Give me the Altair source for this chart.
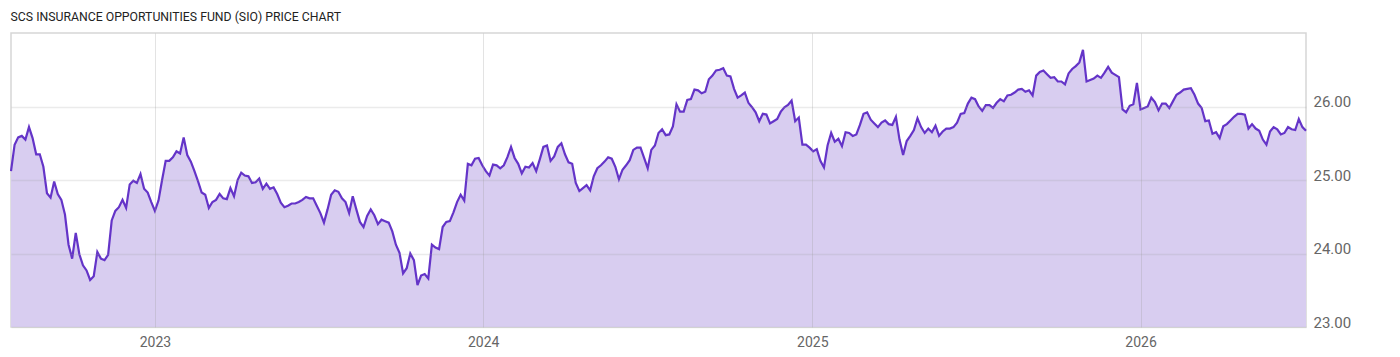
import altair as alt
import pandas as pd

title_text = "SCS INSURANCE OPPORTUNITIES FUND (SIO) PRICE CHART"
start_date = (2022, 7, 25)
end_date = (2026, 7, 4)
step_days = 4
year_ticks = [2023, 2024, 2025, 2026]
price_ticks = [23, 24, 25, 26]

seg_a = [
    25.12, 25.48, 25.58, 25.60, 25.55, 25.72, 25.57, 25.35, 25.35, 25.18,
    24.82, 24.76, 24.98, 24.81, 24.73, 24.53, 24.12, 23.93, 24.28, 23.99,
    23.84, 23.77, 23.64, 23.69, 24.02, 23.93, 23.91, 23.98, 24.45, 24.58,
    24.63, 24.73, 24.62, 24.94, 24.99, 24.96, 25.08, 24.88, 24.83, 24.70,
    24.58, 24.72, 25.00, 25.26, 25.26, 25.31, 25.39, 25.36, 25.58, 25.34,
    25.25, 25.12, 24.98, 24.83, 24.80, 24.62, 24.70, 24.73, 24.81, 24.75,
    24.74, 24.89, 24.78, 25.00, 25.10, 25.06, 25.05, 24.96, 24.97, 25.02,
    24.88, 24.95, 24.88, 24.90, 24.81, 24.69, 24.63, 24.65, 24.68, 24.68,
    24.70, 24.73, 24.77, 24.75, 24.75, 24.65, 24.55, 24.42, 24.60, 24.80,
]
seg_b = [
    24.86, 24.84, 24.75, 24.70, 24.55, 24.78, 24.60, 24.43, 24.36, 24.51,
    24.60, 24.52, 24.40, 24.46, 24.44, 24.42, 24.30, 24.12, 24.01, 23.73,
    23.80, 24.00, 23.91, 23.57, 23.70, 23.72, 23.66, 24.12, 24.08, 24.06,
    24.36, 24.43, 24.44, 24.56, 24.70, 24.80, 24.72, 25.22, 25.20, 25.29,
    25.30, 25.20, 25.12, 25.06, 25.21, 25.20, 25.16, 25.20, 25.31, 25.45,
    25.30, 25.22, 25.09, 25.18, 25.17, 25.23, 25.12, 25.28, 25.45, 25.47,
    25.26, 25.32, 25.45, 25.50, 25.35, 25.24, 25.22, 24.96, 24.85, 24.89,
    24.93, 24.86, 25.05, 25.16, 25.20, 25.25, 25.31, 25.29, 25.18, 25.01,
    25.14, 25.20, 25.27, 25.41, 25.44, 25.44, 25.30, 25.16, 25.41, 25.47,
]
seg_c = [
    25.64, 25.69, 25.61, 25.62, 25.73, 26.03, 25.93, 25.93, 26.09, 26.10,
    26.23, 26.22, 26.18, 26.20, 26.37, 26.42, 26.49, 26.50, 26.52, 26.42,
    26.41, 26.24, 26.12, 26.15, 26.19, 26.05, 25.99, 25.92, 25.80, 25.90,
    25.89, 25.77, 25.80, 25.83, 25.93, 25.99, 26.02, 26.08, 25.80, 25.85,
    25.48, 25.48, 25.44, 25.39, 25.42, 25.26, 25.17, 25.47, 25.64, 25.52,
    25.56, 25.46, 25.65, 25.64, 25.60, 25.62, 25.75, 25.90, 25.92, 25.82,
    25.77, 25.72, 25.78, 25.81, 25.76, 25.75, 25.86, 25.55, 25.34, 25.53,
    25.60, 25.68, 25.84, 25.72, 25.64, 25.70, 25.65, 25.74, 25.60, 25.66,
    25.70, 25.70, 25.72, 25.78, 25.90, 25.91, 26.04, 26.12, 26.10, 26.00,
]
seg_d = [
    25.94, 26.02, 26.02, 25.98, 26.05, 26.10, 26.07, 26.15, 26.16, 26.19,
    26.23, 26.24, 26.20, 26.22, 26.15, 26.42, 26.47, 26.49, 26.44, 26.39,
    26.40, 26.34, 26.34, 26.30, 26.45, 26.51, 26.55, 26.60, 26.77, 26.34,
    26.36, 26.38, 26.42, 26.39, 26.46, 26.54, 26.46, 26.43, 26.40, 25.96,
    25.92, 26.01, 26.03, 26.32, 25.96, 25.98, 26.00, 26.12, 26.06, 25.95,
    26.04, 26.04, 25.98, 26.07, 26.16, 26.19, 26.23, 26.24, 26.25, 26.16,
    26.04, 25.98, 25.80, 25.81, 25.63, 25.65, 25.57, 25.73, 25.76, 25.81,
    25.86, 25.90, 25.90, 25.89, 25.70, 25.76, 25.70, 25.67, 25.55, 25.48,
    25.66, 25.72, 25.69, 25.62, 25.64, 25.72, 25.69, 25.68, 25.83, 25.72,
    25.67,
]

prices = seg_a + seg_b + seg_c + seg_d
dates = pd.date_range(
    pd.Timestamp(*start_date), periods=len(prices), freq=f"{step_days}D"
).strftime("%Y-%m-%d")
df = pd.DataFrame({"date": list(dates), "price": prices})

FONT = "Roboto"
LINE_COLOR = "#6434c8"
FILL_COLOR = "#d8cdf0"

x_enc = alt.X(
    "date:T",
    scale=alt.Scale(
        domain=[
            alt.DateTime(year=start_date[0], month=start_date[1], date=start_date[2]),
            alt.DateTime(year=end_date[0], month=end_date[1], date=end_date[2]),
        ]
    ),
    axis=alt.Axis(
        title=None,
        values=[alt.DateTime(year=y, month=1, date=1) for y in year_ticks],
        format="%Y",
        labelFont=FONT,
        labelFontSize=14,
        labelColor="#666666",
        labelPadding=8,
        labelFlush=False,
        ticks=False,
        domain=False,
        grid=True,
        gridColor="#999999",
        gridOpacity=0.28,
        gridWidth=1,
        zindex=1,
    ),
)
y_enc = alt.Y(
    "price:Q",
    scale=alt.Scale(domain=[23, 27], zero=False, nice=False),
    axis=alt.Axis(
        title=None,
        orient="right",
        values=price_ticks,
        format=".2f",
        labelFont=FONT,
        labelFontSize=15,
        labelColor="#666666",
        labelPadding=7,
        labelBaseline="alphabetic",
        ticks=False,
        domain=False,
        grid=True,
        gridColor="#999999",
        gridOpacity=0.2,
        gridWidth=1.5,
        zindex=1,
    ),
)

area = alt.Chart(df).mark_area(color=FILL_COLOR, opacity=1).encode(
    x=x_enc, y=y_enc, y2=alt.datum(23)
)
line = alt.Chart(df).mark_line(color=LINE_COLOR, strokeWidth=2.2).encode(
    x=x_enc, y=y_enc
)

chart = (
    alt.layer(area, line)
    .properties(
        width=1295,
        height=294,
        padding={"left": 6, "top": 10, "right": 5, "bottom": 5},
        title=alt.TitleParams(
            text=title_text,
            anchor="start",
            font=FONT,
            fontSize=12.25,
            fontWeight="normal",
            color="#222222",
            offset=10,
            dx=4,
        ),
    )
    .configure_view(stroke="#d6d6d6", strokeWidth=1.5)
)

chart.save("out.html", embed_options={"renderer": "svg", "actions": False})
